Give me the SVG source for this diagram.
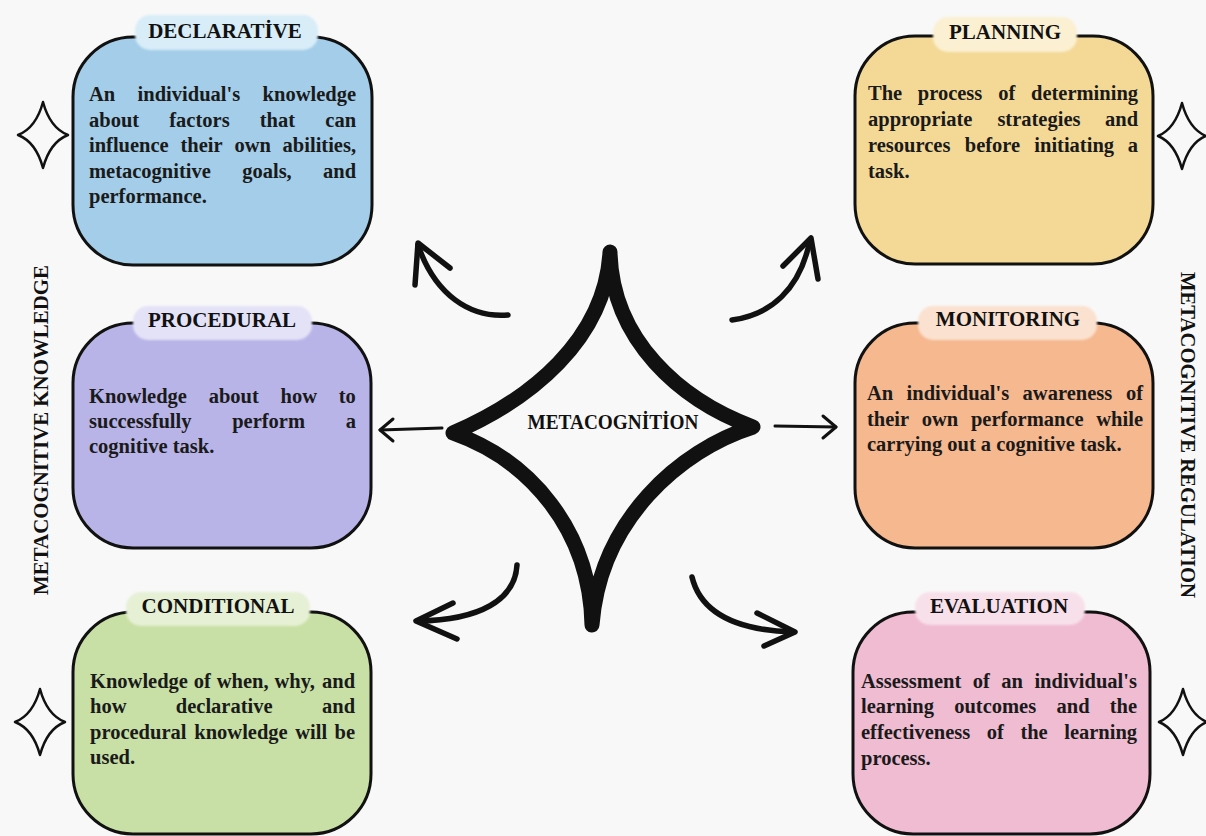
<svg xmlns="http://www.w3.org/2000/svg" width="1206" height="836" viewBox="0 0 1206 836">
<defs>
<style>
.bg{fill:#f8f8f8}
.box{stroke:#111;stroke-width:3}
.hdr{font-family:"Liberation Serif","Times New Roman",serif;font-weight:bold;font-size:21px;fill:#111;text-anchor:middle}
.body{font-family:"Liberation Serif","Times New Roman",serif;font-weight:bold;font-size:20.5px;fill:#1a1a1a}
.side{font-family:"Liberation Serif","Times New Roman",serif;font-weight:bold;font-size:21px;fill:#111;text-anchor:middle}
.star{fill:none;stroke:#111;stroke-width:2.5;stroke-linejoin:round}
.arr{fill:none;stroke:#111;stroke-width:5.5;stroke-linecap:round;stroke-linejoin:round}
.arr2{fill:none;stroke:#111;stroke-width:3;stroke-linecap:round;stroke-linejoin:round}
.big{fill:none;stroke:#111;stroke-width:15;stroke-linecap:round;stroke-linejoin:round}
</style>
<filter id="soft" x="-10%" y="-30%" width="120%" height="160%"><feGaussianBlur stdDeviation="1.3"/></filter>
</defs>
<rect class="bg" x="0" y="0" width="1206" height="836"/>

<g id="label-knowledge"><text class="side" transform="translate(48,430) rotate(-90)" textLength="330" lengthAdjust="spacingAndGlyphs">METACOGNITIVE KNOWLEDGE</text></g>
<g id="label-regulation"><text class="side" transform="translate(1181,435) rotate(90)" textLength="326" lengthAdjust="spacingAndGlyphs">METACOGNITIVE REGULATION</text></g>

<g id="decor-stars">
<path class="star" d="M43,102 Q50,128 68,135 Q50,142 43,168 Q36,142 18,135 Q36,128 43,102 Z"/>
<path class="star" d="M1182,103 Q1189,129 1206,136 Q1189,143 1182,169 Q1175,143 1158,136 Q1175,129 1182,103 Z"/>
<path class="star" d="M40,689 Q47,715 65,722 Q47,729 40,755 Q33,729 15,722 Q33,715 40,689 Z"/>
<path class="star" d="M1183,689 Q1190,715 1207,722 Q1190,729 1183,755 Q1176,729 1159,722 Q1176,715 1183,689 Z"/>
</g>

<g id="declarative">
<rect class="box" x="73" y="37" width="299" height="228" rx="60" fill="#a3cde8"/>
<rect x="135" y="15" width="183" height="35" rx="15" fill="#d8edf8" filter="url(#soft)"/>
<text class="hdr" x="225" y="38">DECLARATİVE</text>
<text class="body">
<tspan x="89" y="101">An</tspan><tspan x="137.6" y="101">individual's</tspan><tspan x="262.6" y="101">knowledge</tspan>
<tspan x="89" y="127">about</tspan><tspan x="169.3" y="127">factors</tspan><tspan x="259.8" y="127">that</tspan><tspan x="325.3" y="127">can</tspan>
<tspan x="89" y="152">influence</tspan><tspan x="180.5" y="152">their</tspan><tspan x="234.4" y="152">own</tspan><tspan x="282.6" y="152">abilities,</tspan>
<tspan x="89" y="178">metacognitive</tspan><tspan x="242.2" y="178">goals,</tspan><tspan x="323" y="178">and</tspan>
<tspan x="89" y="203">performance.</tspan>
</text>
</g>

<g id="planning">
<rect class="box" x="855" y="36" width="298" height="228" rx="60" fill="#f4d996"/>
<rect x="933" y="17" width="144" height="35" rx="15" fill="#fbf0d2" filter="url(#soft)"/>
<text class="hdr" x="1005" y="39">PLANNING</text>
<text class="body">
<tspan x="868" y="100">The</tspan><tspan x="917.8" y="100">process</tspan><tspan x="998.3" y="100">of</tspan><tspan x="1031" y="100">determining</tspan>
<tspan x="868" y="126">appropriate</tspan><tspan x="997.4" y="126">strategies</tspan><tspan x="1105" y="126">and</tspan>
<tspan x="868" y="152">resources</tspan><tspan x="964.8" y="152">before</tspan><tspan x="1034.3" y="152">initiating</tspan><tspan x="1127.7" y="152">a</tspan>
<tspan x="868" y="178">task.</tspan>
</text>
</g>

<g id="procedural">
<rect class="box" x="73" y="323" width="298" height="225" rx="60" fill="#b8b4e8"/>
<rect x="133" y="306" width="179" height="34" rx="15" fill="#e4e2f7" filter="url(#soft)"/>
<text class="hdr" x="222" y="327">PROCEDURAL</text>
<text class="body">
<tspan x="89" y="403">Knowledge</tspan><tspan x="208.7" y="403">about</tspan><tspan x="280.6" y="403">how</tspan><tspan x="338.8" y="403">to</tspan>
<tspan x="89" y="428">successfully</tspan><tspan x="232.2" y="428">perform</tspan><tspan x="345.8" y="428">a</tspan>
<tspan x="89" y="453">cognitive task.</tspan>
</text>
</g>

<g id="monitoring">
<rect class="box" x="855" y="323" width="298" height="225" rx="60" fill="#f5b88f"/>
<rect x="918" y="306" width="179" height="34" rx="15" fill="#fbe1cf" filter="url(#soft)"/>
<text class="hdr" x="1008" y="326">MONITORING</text>
<text class="body">
<tspan x="867" y="400">An</tspan><tspan x="906.6" y="400">individual's</tspan><tspan x="1022.6" y="400">awareness</tspan><tspan x="1126" y="400">of</tspan>
<tspan x="867" y="426">their</tspan><tspan x="921.8" y="426">own</tspan><tspan x="970.9" y="426">performance</tspan><tspan x="1096.3" y="426">while</tspan>
<tspan x="867" y="451">carrying out a cognitive task.</tspan>
</text>
</g>

<g id="conditional">
<rect class="box" x="73" y="612" width="298" height="222" rx="60" fill="#c8e0a5"/>
<rect x="126" y="592" width="184" height="34" rx="15" fill="#e6f0d5" filter="url(#soft)"/>
<text class="hdr" x="218" y="613">CONDITIONAL</text>
<text class="body">
<tspan x="90" y="688">Knowledge</tspan><tspan x="193.8" y="688">of</tspan><tspan x="216.8" y="688">when,</tspan><tspan x="274.5" y="688">why,</tspan><tspan x="322" y="688">and</tspan>
<tspan x="90" y="713">how</tspan><tspan x="175.8" y="713">declarative</tspan><tspan x="322" y="713">and</tspan>
<tspan x="90" y="739">procedural</tspan><tspan x="194.3" y="739">knowledge</tspan><tspan x="295.2" y="739">will</tspan><tspan x="334.6" y="739">be</tspan>
<tspan x="90" y="764">used.</tspan>
</text>
</g>

<g id="evaluation">
<rect class="box" x="853" y="612" width="297" height="222" rx="60" fill="#f0bcd2"/>
<rect x="915" y="592" width="170" height="33" rx="15" fill="#f8e0ea" filter="url(#soft)"/>
<text class="hdr" x="999" y="613">EVALUATION</text>
<text class="body">
<tspan x="861" y="688">Assessment</tspan><tspan x="972.7" y="688">of</tspan><tspan x="1001.3" y="688">an</tspan><tspan x="1034.4" y="688">individual's</tspan>
<tspan x="861" y="713">learning</tspan><tspan x="954.2" y="713">outcomes</tspan><tspan x="1056.5" y="713">and</tspan><tspan x="1109.8" y="713">the</tspan>
<tspan x="861" y="739">effectiveness</tspan><tspan x="986.8" y="739">of</tspan><tspan x="1020.4" y="739">the</tspan><tspan x="1064.2" y="739">learning</tspan>
<tspan x="861" y="765">process.</tspan>
</text>
</g>

<g id="metacognition">
<path class="big" d="M453,433 C530,400 605,340 610,252 C612,340 680,400 753,427 C680,450 600,520 592,625 C590,530 530,460 453,433 Z"/>
<text class="hdr" x="613" y="429" textLength="171" lengthAdjust="spacingAndGlyphs">METACOGNİTİON</text>
</g>

<g id="connectors">
<path class="arr" d="M508,315 C470,318 435,295 418,245"/>
<path class="arr" d="M415,285 L418,243 L450,268"/>
<path class="arr" d="M732,320 C770,315 800,290 810,240"/>
<path class="arr" d="M783,266 L811,238 L818,279"/>
<path class="arr" d="M517,565 C515,600 480,620 418,621"/>
<path class="arr" d="M453,603 L416,621 L457,639"/>
<path class="arr" d="M692,577 C700,610 730,630 793,632"/>
<path class="arr" d="M757,613 L795,632 L764,646"/>
<path class="arr2" d="M442,428 L380,430"/>
<path class="arr2" d="M393,419 L380,430 L393,441"/>
<path class="arr2" d="M775,426 L836,427"/>
<path class="arr2" d="M823,416 L836,427 L823,438"/>
</g>
</svg>
